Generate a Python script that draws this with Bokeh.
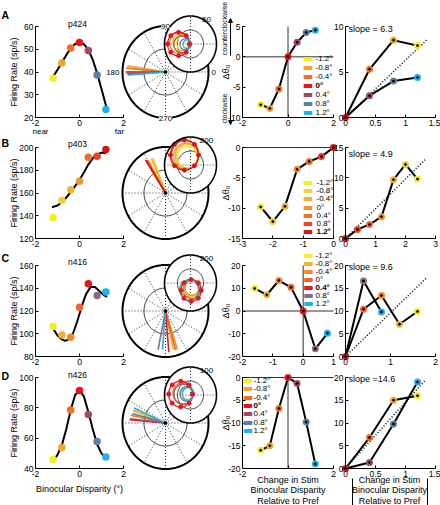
import numpy as np
from bokeh.plotting import figure
from bokeh.models import (Range1d, Label, FixedTicker, CustomJSTickFormatter, Arrow,
                          NormalHead, LinearAxis)
from bokeh.embed import file_html
from bokeh.resources import INLINE

FONT = "Liberation Sans"

# ---------------- data ----------------
disparity = [-1.2, -0.8, -0.4, 0.0, 0.4, 0.8, 1.2]
legend_labels = ["-1.2°", "-0.8°", "-0.4°", "0°", "0.4°", "0.8°", "1.2°"]
neuron_names = ["p424", "p403", "n416", "n426"]
panel_letters = ["A", "B", "C", "D"]
pref_index = [3, 6, 4, 3]

colors_A = ["#f4f01c", "#f2a52a", "#f07024", "#e8141c", "#a44a62", "#5a7fa8", "#1cb2ec"]
colors_B = ["#f4f01c", "#f3cf3a", "#f2b234", "#f09436", "#f0702c", "#ea4424", "#d41818"]
colors_C = ["#f4f01c", "#f2b030", "#f08a2c", "#f06428", "#e01a1a", "#8c6a88", "#1cb2ec"]
colors_D = ["#f4f01c", "#f2a52a", "#f07024", "#e8141c", "#a44a62", "#5a7fa8", "#1cb2ec"]

rate_A = [37.3, 44.0, 50.5, 53.0, 49.5, 38.7, 23.5]
rate_B = [138.5, 153.5, 162.8, 170.4, 191.5, 192.4, 198.2]
rate_C = [106.4, 99.0, 97.0, 123.3, 143.9, 133.6, 136.6]
rate_D = [45.9, 53.9, 78.5, 91.5, 75.6, 57.8, 47.6]

fit_x_A = [-1.25, -1.0, -0.8, -0.6, -0.4, -0.2, 0.0, 0.2, 0.4, 0.6, 0.8, 1.0, 1.25]
fit_y_A = [37.2, 41.0, 44.2, 47.5, 50.5, 52.3, 53.0, 52.2, 49.8, 45.5, 39.5, 32.5, 23.5]
fit_x_B = [-1.25, -1.0, -0.8, -0.6, -0.4, -0.2, 0.0, 0.2, 0.4, 0.6, 0.8, 1.0, 1.2]
fit_y_B = [147.5, 149.0, 152.0, 156.0, 161.0, 166.0, 171.5, 178.0, 185.0, 190.5, 194.0, 195.5, 195.0]
fit_x_C = [-1.2, -1.0, -0.8, -0.65, -0.5, -0.3, -0.1, 0.1, 0.3, 0.5, 0.7, 0.9, 1.1, 1.25]
fit_y_C = [104.5, 98.5, 95.0, 93.8, 95.0, 100.0, 111.0, 124.0, 135.0, 141.0, 141.0, 137.5, 134.0, 132.5]
fit_x_D = [-1.2, -1.0, -0.8, -0.6, -0.4, -0.2, 0.0, 0.2, 0.4, 0.6, 0.8, 1.0, 1.2]
fit_y_D = [45.0, 49.0, 55.5, 66.0, 78.5, 88.5, 91.5, 87.5, 77.5, 66.0, 56.0, 50.0, 47.0]

dtheta_A = [-7.9, -8.5, -5.3, 0.0, 2.4, 4.0, 4.4]
dtheta_B = [-9.8, -12.2, -9.7, -3.6, -2.3, -1.5, 0.0]
dtheta_C = [9.9, 7.1, 13.4, 10.4, 0.0, -16.6, -9.8]
dtheta_D = [-16.0, -15.0, -6.8, 0.0, -1.3, -9.8, -19.0]

slope_texts = ["slope = 6.3", "slope = 4.9", "slope = 9.6", "slope =14.6"]
slope_values = [6.3, 4.9, 9.6, 14.6]
slope_x_end = [1.35, 2.65, 1.8, 1.34]

tuning_ylim = [(20, 60), (120, 200), (80, 160), (40, 100)]
tuning_yticks = [[20, 30, 40, 50, 60], [120, 140, 160, 180, 200], [80, 100, 120, 140, 160], [40, 60, 80, 100]]
tuning_xticks = [-2, 0, 2]
dtheta_xlim = [(-2, 2), (-3, 0), (-2, 1), (-2, 2)]
dtheta_xticks = [[-2, 0, 2], [-3, -2, -1, 0], [-2, -1, 0, 1], [-2, 0, 2]]
dtheta_ylim = [(-10, 5), (-15, 0), (-20, 20), (-20, 0)]
dtheta_yticks = [[-10, -5, 0, 5], [-15, -10, -5, 0], [-20, -10, 0, 10, 20], [-20, -15, -10, -5, 0]]
abs_xlim = [(0, 1.5), (0, 3), (0, 2), (0, 1.5)]
abs_xticks = [[0, 0.5, 1, 1.5], [0, 1, 2, 3], [0, 1, 2], [0, 0.5, 1, 1.5]]
abs_ylim = [(0, 10), (0, 15), (0, 20), (0, 20)]
abs_yticks = [[0, 5, 10], [0, 5, 10, 15], [0, 5, 10, 15, 20], [0, 5, 10, 15, 20]]

pref_orientation = [180, 123, 275, 175]
vector_length_A = [0.88, 0.90, 0.92, 0.92, 0.90, 0.88, 0.86]
vector_length_B = [0.80, 0.80, 0.82, 0.82, 0.83, 0.84, 0.86]
vector_length_C = [0.86, 0.86, 0.88, 0.88, 0.90, 0.86, 0.84]
vector_length_D = [0.80, 0.80, 0.82, 0.84, 0.82, 0.80, 0.80]
inset_max = [50, 200, 200, 100]
loop_shift_A = [15, 19, 21, 23, 17, 10, 6]
loop_radius_A = [12, 15, 19, 21, 15, 10, 8]
loop_shift_B = [60, 66, 70, 73, 82, 83, 85]
loop_radius_B = [76, 84, 89, 93, 104, 105, 108]
loop_shift_C = [40, 37, 36, 46, 54, 50, 51]
loop_radius_C = [58, 54, 53, 67, 78, 72, 74]
loop_shift_D = [10, 13, 30, 38, 28, 15, 10]
loop_radius_D = [22, 25, 38, 46, 36, 26, 22]

rates = [rate_A, rate_B, rate_C, rate_D]
fits = [(fit_x_A, fit_y_A), (fit_x_B, fit_y_B), (fit_x_C, fit_y_C), (fit_x_D, fit_y_D)]
dthetas = [dtheta_A, dtheta_B, dtheta_C, dtheta_D]
palettes = [colors_A, colors_B, colors_C, colors_D]
vec_lengths = [vector_length_A, vector_length_B, vector_length_C, vector_length_D]
loop_shifts = [loop_shift_A, loop_shift_B, loop_shift_C, loop_shift_D]
loop_radii = [loop_radius_A, loop_radius_B, loop_radius_C, loop_radius_D]

# ---------------- layout (page pixels, y downward) ----------------
PW, PH = 440, 505
BOXX = [(35, 123), None, (242, 333), (345, 435)]
BOXY = [(26, 117), (147, 238), (265, 356), (377, 468)]
PCX, RX, RY = 165, 43, 46
IDX, IDY, IRX, IRY = 25, 28, 26, 28
LETTER_Y = [14, 142, 257, 375]
TITLE_DY = [-3, -4, -4, -3]
SLOPE_DY = [2, 6, 1, 1]
LEGEND_POS = [(65.5, 73, 32, 9.0), (65.5, 74, 35, 8.2), (66, 73, -10, 8.0), (5.5, 11, 3, 8.3)]
XLAB_Y = [479, 489.5, 500]

p = figure(width=PW, height=PH, x_range=Range1d(0, PW), y_range=Range1d(-PH, 0),
           x_axis_type=None, y_axis_type=None, min_border=0,
           output_backend="svg", toolbar_location=None)
p.outline_line_color = None
p.background_fill_color = "white"
p.border_fill_color = "white"

xr, yr = {}, {}
axes_specs = []


def subplot(name, xlim, ylim, box, xticks, yticks, hide_zero_x=False):
    bx0, bx1, by0, by1 = box
    xlo, xhi = xlim
    ylo, yhi = ylim
    sx = (xhi - xlo) / (bx1 - bx0)
    sy = (yhi - ylo) / (by1 - by0)
    xr[name] = Range1d(xlo - bx0 * sx, xlo + (PW - bx0) * sx)
    yr[name] = Range1d(yhi - (PH - by0) * sy, yhi + by0 * sy)
    axes_specs.append((name, xlim, ylim, xticks, yticks, hide_zero_x))
    return dict(x_range_name=name, y_range_name=name)


def make_axis(name, cross, bounds, ticks, hide_zero=False):
    code = "return String(Math.round(tick*100)/100);"
    if hide_zero:
        code = "return tick == 0 ? '' : String(Math.round(tick*100)/100);"
    ax = LinearAxis(x_range_name=name, y_range_name=name, fixed_location=cross, bounds=bounds,
                    ticker=FixedTicker(ticks=ticks), formatter=CustomJSTickFormatter(code=code),
                    major_tick_in=3, major_tick_out=0, minor_tick_in=0, minor_tick_out=0,
                    axis_line_color="black", axis_line_width=1, major_tick_line_color="black",
                    major_label_text_font=FONT, major_label_text_font_size="8.5px",
                    major_label_text_color="black", major_label_standoff=2)
    return ax


def txt(ix, iy, text, size="9px", align="center", baseline="middle",
        angle=0.0, bold=False, color="black", font=FONT, bg=None):
    lab = Label(x=ix, y=-iy, text=text, text_font=font,
                text_font_size=size, text_align=align, text_baseline=baseline,
                angle=angle, text_color=color,
                text_font_style="bold" if bold else "normal")
    if bg is not None:
        lab.background_fill_color = bg
    p.add_layout(lab)


t = np.linspace(0, 2 * np.pi, 181)

for r in range(4):
    bt, bb = BOXY[r]
    ymid = (bt + bb) / 2
    pal = palettes[r]
    k = pref_index[r]

    # ---- column 1: disparity tuning ----
    n1 = f"tun{r}"
    kw = subplot(n1, (-2, 2), tuning_ylim[r], BOXX[0] + BOXY[r], tuning_xticks, tuning_yticks[r])
    fx, fy = fits[r]
    p.line(fx, fy, line_color="black", line_width=2, **kw)
    p.scatter(disparity, rates[r], size=7.5, fill_color=pal, line_color=None, **kw)
    txt(13, ymid, "Firing Rate (sp/s)", angle=np.pi / 2)
    txt(77, bt + TITLE_DY[r], neuron_names[r], size="8.5px")
    txt(1, LETTER_Y[r], panel_letters[r], align="left", size="10.5px", bold=True)
    if r == 0:
        txt(40, 131, "near", size="8px")
        txt(119, 131, "far", size="8px")
        txt(119, ymid, "180", align="right", size="8px")
    if r == 3:
        txt(79, 488, "Binocular Disparity (°)")

    # ---- column 2: polar plots (page pixel coordinates) ----
    cx, cy = PCX, -ymid
    spokes = np.deg2rad(np.arange(0, 360, 30))
    p.multi_line(xs=[[cx, cx + RX * np.cos(a)] for a in spokes],
                 ys=[[cy, cy + RY * np.sin(a)] for a in spokes],
                 line_color="black", line_width=0.8, line_dash="1 2")
    p.line(cx + 0.5 * RX * np.cos(t), cy + 0.5 * RY * np.sin(t), line_color="black", line_width=0.8)
    p.line(cx + RX * np.cos(t), cy + RY * np.sin(t), line_color="black", line_width=2)
    ang = np.deg2rad(pref_orientation[r] + np.array(dthetas[r]))
    L = np.array(vec_lengths[r])
    p.multi_line(xs=[[cx, cx + l * RX * np.cos(a)] for a, l in zip(ang, L)],
                 ys=[[cy, cy + l * RY * np.sin(a)] for a, l in zip(ang, L)],
                 line_color=pal, line_width=1.6)
    p.scatter([cx], [cy], size=3, color="black")
    icx, icy = cx + IDX, cy + IDY
    sx, sy = IRX / inset_max[r], IRY / inset_max[r]
    p.patch(icx + IRX * np.cos(t), icy + IRY * np.sin(t), fill_color="white", line_color=None)
    p.line(icx + 0.5 * IRX * np.cos(t), icy + 0.5 * IRY * np.sin(t), line_color="black", line_width=0.8)
    p.multi_line(xs=[[icx - IRX, icx + IRX], [icx, icx]], ys=[[icy, icy], [icy - IRY, icy + IRY]],
                 line_color="black", line_width=0.8, line_dash="1 2")
    lxs, lys = [], []
    for a, d, rho in zip(ang, loop_shifts[r], loop_radii[r]):
        lcx, lcy = icx + d * sx * np.cos(a), icy + d * sy * np.sin(a)
        lxs.append(lcx + rho * sx * np.cos(t))
        lys.append(lcy + rho * sy * np.sin(t))
    p.multi_line(xs=lxs, ys=lys, line_color=pal, line_width=1.3)
    tk = np.deg2rad(np.arange(0, 360, 45))
    a, d, rho = ang[k], loop_shifts[r][k], loop_radii[r][k]
    p.scatter(icx + d * sx * np.cos(a) + rho * sx * np.cos(tk),
              icy + d * sy * np.sin(a) + rho * sy * np.sin(tk),
              size=4, color=pal[k])
    p.line(icx + IRX * np.cos(t), icy + IRY * np.sin(t), line_color="black", line_width=1.6)
    txt(icx + 16, -(icy + 25), str(inset_max[r]), size="8px")
    if r == 0:
        txt(cx, -(cy + RY), "90", size="8px", bg="white")
        txt(cx, -(cy - RY), "270", size="8px", bg="white")
        txt(cx + RX + 3, -cy, "0", align="left", size="8px")

    # ---- column 3: orientation shift vs disparity ----
    n3 = f"dth{r}"
    xlo, xhi = dtheta_xlim[r]
    ylo, yhi = dtheta_ylim[r]
    kw = subplot(n3, (xlo, xhi), (ylo, yhi), BOXX[2] + BOXY[r], dtheta_xticks[r], dtheta_yticks[r],
                 hide_zero_x=(r == 3))
    p.line([xlo, xhi], [0, 0], line_color="#303030", line_width=1, **kw)
    p.line([0, 0], [ylo, yhi], line_color="#303030", line_width=1, **kw)
    rel = [dd - disparity[k] for dd in disparity]
    p.line(rel, dthetas[r], line_color="black", line_width=2, **kw)
    p.scatter(rel, dthetas[r], size=7, fill_color=pal, line_color=None, **kw)
    p.scatter(rel, dthetas[r], size=2, color="black", **kw)
    bx0 = BOXX[2][0]
    txt(225, ymid, "Δθ₀", angle=np.pi / 2)
    sw, tx, y0, dy = LEGEND_POS[r]
    for i, (lab, c) in enumerate(zip(legend_labels, pal)):
        yy = bt + y0 + i * dy
        txt(bx0 + sw, yy, "▬", font="DejaVu Sans", size="11px", color=c)
        txt(bx0 + tx, yy, lab, align="left", size="8px", bold=(i == k))
    if r == 0:
        txt(223.5, 28, "counterclockwise", angle=np.pi / 2, size="7px")
        txt(223.5, 108, "clockwise", angle=np.pi / 2, size="7px")
        head = dict(size=4, fill_color="black", line_color="black", line_width=1)
        p.add_layout(Arrow(end=NormalHead(**head), x_start=230, y_start=-55,
                           x_end=230, y_end=-18, line_width=1))
        p.add_layout(Arrow(end=NormalHead(**head), x_start=230, y_start=-96,
                           x_end=230, y_end=-124, line_width=1))
    if r == 3:
        xm = (BOXX[2][0] + BOXX[2][1]) / 2
        for line, yy in zip(["Change in Stim", "Binocular Disparity", "Relative to Pref"], XLAB_Y):
            txt(xm, yy, line)

    # ---- column 4: |orientation shift| vs |disparity change| ----
    n4 = f"abs{r}"
    xlo, xhi = abs_xlim[r]
    ylo, yhi = abs_ylim[r]
    kw = subplot(n4, (xlo, xhi), (ylo, yhi), BOXX[3] + BOXY[r], abs_xticks[r], abs_yticks[r])
    arel = [abs(dd - disparity[k]) for dd in disparity]
    mag = [abs(v) for v in dthetas[r]]
    xe = slope_x_end[r]
    p.line([0, xe], [0, slope_values[r] * xe], line_color="black", line_width=1.5,
           line_dash="1 2", **kw)
    for idx in (list(range(k, -1, -1)), list(range(k, 7))):
        if len(idx) > 1:
            p.line([arel[i] for i in idx], [mag[i] for i in idx], line_color="black",
                   line_width=2, **kw)
    p.scatter(arel, mag, size=7, fill_color=pal, line_color=None, **kw)
    p.scatter(arel, mag, size=2, color="black", **kw)
    txt(348, bt + SLOPE_DY[r], slope_texts[r], align="left")
    if r == 3:
        for line, yy in zip(["Change in Stim", "Binocular Disparity", "Relative to Pref"], XLAB_Y):
            txt(389, yy, line)
        for bxp in (352, 427):
            p.add_layout(Arrow(end=None, x_start=bxp, y_start=-478, x_end=bxp, y_end=-505,
                               line_width=1, line_color="black"))

p.extra_x_ranges = xr
p.extra_y_ranges = yr
for name, (xlo, xhi), (ylo, yhi), xticks, yticks, hz in axes_specs:
    p.add_layout(make_axis(name, ylo, (xlo, xhi), xticks, hz), "below")
    p.add_layout(make_axis(name, xlo, (ylo, yhi), yticks), "left")

open("out.html", "w").write(file_html(p, INLINE))
